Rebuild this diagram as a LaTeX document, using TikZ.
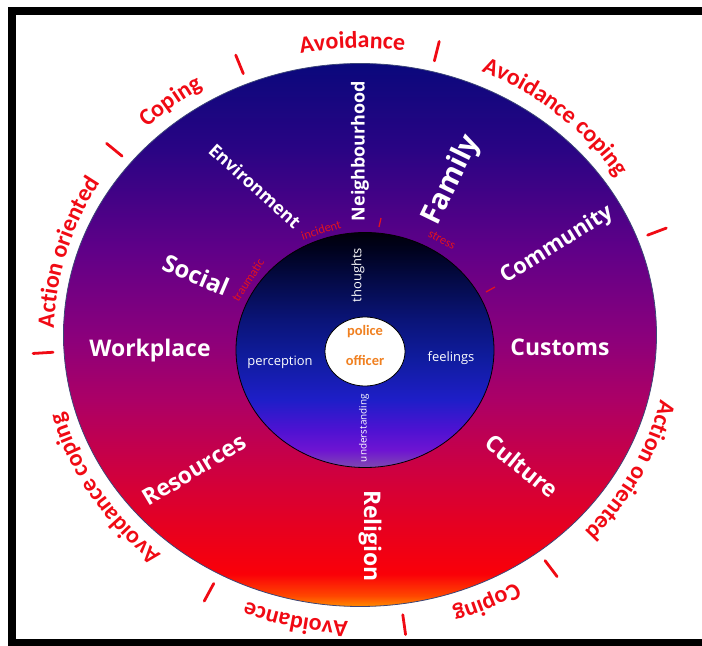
\documentclass[tikz,border=0pt]{standalone}
\usepackage{fontspec}
\setmainfont{Open Sans}
\newfontfamily\copefont{Carlito}
\usetikzlibrary{decorations.text}

% colours of the outer ring, bottom to top
\definecolor{ringA}{RGB}{255,140,0}
\definecolor{ringB}{RGB}{255,70,0}
\definecolor{ringC}{RGB}{250,0,8}
\definecolor{ringD}{RGB}{232,0,30}
\definecolor{ringE}{RGB}{206,0,64}
\definecolor{ringF}{RGB}{172,0,102}
\definecolor{ringG}{RGB}{138,0,124}
\definecolor{ringH}{RGB}{96,0,136}
\definecolor{ringI}{RGB}{42,4,132}
\definecolor{ringJ}{RGB}{10,8,124}
% colours of the inner disc, bottom to top
\definecolor{coreA}{RGB}{128,72,176}
\definecolor{coreB}{RGB}{110,20,210}
\definecolor{coreC}{RGB}{78,18,210}
\definecolor{coreD}{RGB}{30,30,200}
\definecolor{coreE}{RGB}{16,28,160}
\definecolor{coreF}{RGB}{10,20,120}
\definecolor{coreG}{RGB}{4,10,70}
\definecolor{coreH}{RGB}{0,2,30}
\definecolor{coreI}{RGB}{0,0,10}

\definecolor{copered}{RGB}{240,10,20}
\definecolor{cuered}{RGB}{225,18,32}
\definecolor{officerorange}{RGB}{240,128,32}
\definecolor{rimline}{RGB}{60,70,120}

\pgfdeclareverticalshading{ringshade}{100bp}{color(0bp)=(ringA); color(25bp)=(ringA);
  color(26bp)=(ringB); color(28bp)=(ringC); color(32bp)=(ringD); color(37.5bp)=(ringE);
  color(44bp)=(ringF); color(50bp)=(ringG); color(57.8bp)=(ringH); color(67bp)=(ringI);
  color(75bp)=(ringJ); color(100bp)=(ringJ)}
\pgfdeclareverticalshading{coreshade}{100bp}{color(0bp)=(coreA); color(25bp)=(coreA);
  color(28.7bp)=(coreB); color(33bp)=(coreC); color(39.4bp)=(coreD); color(47.9bp)=(coreE);
  color(56.4bp)=(coreF); color(65bp)=(coreG); color(71.3bp)=(coreH);
  color(75bp)=(coreI); color(100bp)=(coreI)}

\newcommand{\fsz}[1]{\fontsize{#1}{#1}\selectfont}

\tikzset{
    ringlabel/.style={text=white, inner sep=0pt, font=\bfseries\fsz{#1}},
    ringlabel/.default=23,
    corelabel/.style={text=white, inner sep=0pt, font=\fsz{#1}},
    corelabel/.default=13,
    cuelabel/.style={text=cuered, inner sep=0pt, font=\copefont\fsz{12.5}},
    cuemark/.style={draw=cuered, line width=1.3},
    officerlabel/.style={text=officerorange, inner sep=0pt, font=\copefont\bfseries\fsz{14.5}},
    copetext/.style={decorate, decoration={text along path, text align=center,
        text color=copered, text={|\copefont\bfseries\fsz{24}|#1}}},
    copemark/.style={draw=copered, line width=2.8, line cap=round}
}

\begin{document}
\begin{tikzpicture}[x=1bp, y=1bp]
    \useasboundingbox (-360,-311) rectangle (342,335);

    % --- 1. FRAME ---
    \draw[line width=8] (350,324) -- (-348,324) -- (-348,-308) -- (350,-308);

    % --- 2. RING AND DISCS ---
    \shadedraw[shading=ringshade, draw=rimline, line width=0.8] (0,0) ellipse [x radius=296.5, y radius=271.5];
    \shadedraw[shading=coreshade, draw=black, line width=0.8] (5,-15) ellipse [x radius=129, y radius=117.5];
    \filldraw[fill=white, draw=black, line width=0.8] (5,-16.5) ellipse [x radius=40, y radius=34.5];

    % --- 3. OUTER RING WORDS ---
    \node[ringlabel=18, rotate=90] (neighbourhood) at (0,184) {Neighbourhood};
    \node[ringlabel=29, rotate=64] (family) at (92,155) {Family};
    \node[ringlabel=22, rotate=32] (community) at (197,90) {Community};
    \node[ringlabel] (customs) at (200,-12) {Customs};
    \node[ringlabel, rotate=-39] (culture) at (162,-131) {Culture};
    \node[ringlabel, rotate=-90] (religion) at (10,-201) {Religion};
    \node[ringlabel, rotate=31] (resources) at (-166,-135) {Resources};
    \node[ringlabel] (workplace) at (-210,-16) {Workplace};
    \node[ringlabel=24, rotate=-23] (social) at (-164,60) {Social};
    \node[ringlabel=18, rotate=-42] (environment) at (-105,149) {Environment};

    % small cues on the edge of the disc
    \node[cuelabel, rotate=18] (incident) at (-39,105) {incident};
    \node[cuelabel, rotate=57] (traumatic) at (-112,55) {traumatic};
    \node[cuelabel, rotate=-28] (stress) at (82,95) {stress};
    \draw[cuemark] (21,117) -- (19,108);
    \draw[cuemark] (126,43) -- (135,48);

    % --- 4. INNER DISC ---
    \node[corelabel, rotate=90] (thoughts) at (-2,60) {thoughts};
    \node[corelabel] (perception) at (-80,-27) {perception};
    \node[corelabel] (feelings) at (91,-23) {feelings};
    \node[corelabel=10, rotate=90] (understanding) at (4,-93) {understanding};
    \node[officerlabel] (police) at (5,3) {police};
    \node[officerlabel] (officer) at (5,-25) {officer};

    % --- 5. COPING WORDS ROUND THE RING ---
    \path[copetext={Avoidance}] (151.5:308 and 287) arc[start angle=151.5, end angle=31.5, x radius=308, y radius=287];
    \path[copetext={Avoidance coping}] (108.7:308 and 287) arc[start angle=108.7, end angle=-11.3, x radius=308, y radius=287];
    \path[copetext={Action oriented}] (393:308 and 287) arc[start angle=393, end angle=273, x radius=308, y radius=287];
    \path[copetext={Coping}] (355:308 and 287) arc[start angle=355, end angle=235, x radius=308, y radius=287];
    \path[copetext={Avoidance}] (317.5:308 and 287) arc[start angle=317.5, end angle=197.5, x radius=308, y radius=287];
    \path[copetext={Avoidance coping}] (271.5:308 and 287) arc[start angle=271.5, end angle=151.5, x radius=308, y radius=287];
    \path[copetext={Action oriented}] (224:306 and 287) arc[start angle=224, end angle=104, x radius=306, y radius=287];
    \path[copetext={Coping}] (188.6:308 and 287) arc[start angle=188.6, end angle=68.6, x radius=308, y radius=287];

    % separators
    \foreach \a in {20.7,76,112.3,140.7,183.5,241.6,278,307}
        \draw[copemark] (\a:307.5 and 282.5) -- (\a:327.5 and 302.5);

\end{tikzpicture}
\end{document}
